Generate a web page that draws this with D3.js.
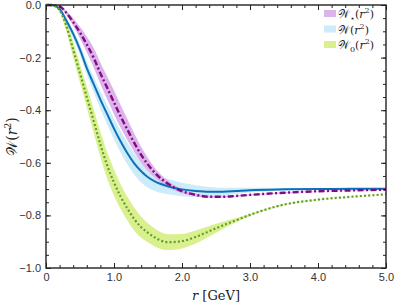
<!DOCTYPE html>
<html>
<head>
<meta charset="utf-8">
<script src="https://cdn.jsdelivr.net/npm/d3@7"></script>
<style>
  body { margin: 0; background: #fff; }
  svg { display: block; }
  .tick text { font-family: "Liberation Sans", Arial, sans-serif; font-size: 11px; fill: #333; }
  .math { font-family: "DejaVu Serif", "Liberation Serif", serif; }
</style>
</head>
<body>
<div id="chart"></div>
<script>
// radial grid (GeV)
var rVals = [0, 0.1, 0.2, 0.3, 0.4, 0.5, 0.6, 0.7, 0.8, 0.9, 1.0, 1.1, 1.2, 1.3, 1.4, 1.5, 1.6, 1.8, 2.0, 2.2, 2.4, 2.6, 2.8, 3.0, 3.5, 4.0, 4.5, 5.0];

// W_star(r^2) - purple dash-dot
var wStar   = [0, 0, -0.005, -0.03, -0.065, -0.105, -0.15, -0.2, -0.26, -0.315, -0.37, -0.425, -0.475, -0.525, -0.57, -0.607, -0.638, -0.681, -0.708, -0.722, -0.729, -0.729, -0.726, -0.722, -0.714, -0.708, -0.705, -0.702];
var wStarHi = [0, 0, -0.002, -0.022, -0.05, -0.083, -0.12, -0.163, -0.22, -0.272, -0.325, -0.382, -0.435, -0.49, -0.54, -0.583, -0.62, -0.669, -0.7, -0.717, -0.725, -0.726, -0.724, -0.72, -0.712, -0.707, -0.704, -0.701];
var wStarLo = [0, 0, -0.008, -0.038, -0.08, -0.127, -0.18, -0.237, -0.3, -0.358, -0.415, -0.468, -0.515, -0.56, -0.6, -0.631, -0.656, -0.693, -0.716, -0.727, -0.733, -0.732, -0.728, -0.724, -0.716, -0.709, -0.706, -0.703];

// W(r^2) - blue solid
var wMid   = [0, -0.001, -0.015, -0.06, -0.11, -0.17, -0.24, -0.3, -0.36, -0.415, -0.47, -0.52, -0.565, -0.603, -0.632, -0.655, -0.671, -0.69, -0.701, -0.707, -0.71, -0.71, -0.707, -0.704, -0.701, -0.7, -0.699, -0.699];
var wMidHi = [0, 0, -0.01, -0.048, -0.095, -0.15, -0.215, -0.272, -0.328, -0.38, -0.432, -0.48, -0.525, -0.565, -0.597, -0.622, -0.641, -0.662, -0.676, -0.685, -0.692, -0.695, -0.695, -0.695, -0.696, -0.697, -0.697, -0.698];
var wMidLo = [0, -0.002, -0.02, -0.072, -0.127, -0.19, -0.265, -0.33, -0.395, -0.455, -0.51, -0.562, -0.607, -0.645, -0.675, -0.695, -0.707, -0.72, -0.727, -0.73, -0.729, -0.725, -0.719, -0.713, -0.706, -0.703, -0.701, -0.7];

// W_0(r^2) - green dotted
var wZero   = [0, -0.002, -0.02, -0.08, -0.17, -0.26, -0.35, -0.44, -0.53, -0.61, -0.675, -0.73, -0.775, -0.815, -0.845, -0.866, -0.884, -0.902, -0.898, -0.882, -0.86, -0.838, -0.818, -0.798, -0.759, -0.74, -0.729, -0.72];
var wZeroHi = [0, 0, -0.012, -0.058, -0.14, -0.225, -0.31, -0.395, -0.482, -0.56, -0.625, -0.683, -0.73, -0.772, -0.805, -0.83, -0.85, -0.872, -0.87, -0.857, -0.84, -0.824, -0.81, -0.794, -0.757, -0.739, -0.728, -0.72];
var wZeroLo = [0, -0.004, -0.028, -0.102, -0.2, -0.295, -0.39, -0.485, -0.578, -0.66, -0.725, -0.777, -0.82, -0.858, -0.885, -0.902, -0.918, -0.932, -0.926, -0.907, -0.88, -0.852, -0.826, -0.802, -0.761, -0.741, -0.73, -0.72];

var xTicks = [0, 1, 2, 3, 4, 5];
var xTickLabels = ["0", "1.0", "2.0", "3.0", "4.0", "5.0"];
var yTicks = [0, -0.2, -0.4, -0.6, -0.8, -1.0];

var width = 395, height = 304;
var margin = {top: 5, right: 9, bottom: 36, left: 46};
var w = width - margin.left - margin.right,
    h = height - margin.top - margin.bottom;

var svg = d3.select("#chart").append("svg")
    .attr("width", width)
    .attr("height", height);

var g = svg.append("g")
    .attr("transform", "translate(" + margin.left + "," + margin.top + ")");

var x = d3.scaleLinear().domain([0, 5]).range([0, w]);
var y = d3.scaleLinear().domain([-1, 0]).range([h, 0]);

var series = [
  {mid: wZero, lo: wZeroLo, hi: wZeroHi, band: "#daf08f", line: "#5f9e2a", dash: "2,2.2", lw: 2.2},
  {mid: wMid,  lo: wMidLo,  hi: wMidHi,  band: "#cdebf8", line: "#0a72bb", dash: null, lw: 2},
  {mid: wStar, lo: wStarLo, hi: wStarHi, band: "#dcb3ea", line: "#820a82", dash: "6,2.5,2,2.5", lw: 2.4}
];

var area = d3.area()
    .x(function(d) { return x(d.r); })
    .y0(function(d) { return y(d.lo); })
    .y1(function(d) { return y(d.hi); })
    .curve(d3.curveMonotoneX);

var line = d3.line()
    .x(function(d) { return x(d.r); })
    .y(function(d) { return y(d.v); })
    .curve(d3.curveMonotoneX);

// bands first, then lines
series.forEach(function(s) {
  var pts = rVals.map(function(r, i) { return {r: r, lo: s.lo[i], hi: s.hi[i]}; });
  g.append("path").datum(pts)
    .attr("d", area)
    .attr("fill", s.band)
    .attr("stroke", "none");
});
[series[1], series[2], series[0]].forEach(function(s) {
  var pts = rVals.map(function(r, i) { return {r: r, v: s.mid[i]}; });
  g.append("path").datum(pts)
    .attr("d", line)
    .attr("fill", "none")
    .attr("stroke", s.line)
    .attr("stroke-width", s.lw)
    .attr("stroke-dasharray", s.dash);
});

// axes, ticks pointing inward on all sides
var xMinor = d3.range(0, 5.001, 0.2);
var yMinor = d3.range(-1, 0.001, 0.05);

var xAxis = d3.axisBottom(x).tickValues(xTicks)
    .tickFormat(function(d, i) { return xTickLabels[i]; })
    .tickSizeInner(-5).tickSizeOuter(0).tickPadding(5);
var yAxis = d3.axisLeft(y).tickValues(yTicks)
    .tickFormat(d3.format(".1f"))
    .tickSizeInner(-5).tickSizeOuter(0).tickPadding(5);

g.append("g").attr("transform", "translate(0," + h + ")").call(xAxis);
g.append("g").call(yAxis);
g.append("g").call(d3.axisTop(x).tickValues(xTicks).tickSizeInner(-5).tickSizeOuter(0).tickFormat(""));
g.append("g").attr("transform", "translate(" + w + ",0)")
  .call(d3.axisRight(y).tickValues(yTicks).tickSizeInner(-5).tickSizeOuter(0).tickFormat(""));

g.append("g").attr("transform", "translate(0," + h + ")")
  .call(d3.axisBottom(x).tickValues(xMinor).tickSizeInner(-3).tickSizeOuter(0).tickFormat(""));
g.append("g").call(d3.axisTop(x).tickValues(xMinor).tickSizeInner(-3).tickSizeOuter(0).tickFormat(""));
g.append("g").call(d3.axisLeft(y).tickValues(yMinor).tickSizeInner(-3).tickSizeOuter(0).tickFormat(""));
g.append("g").attr("transform", "translate(" + w + ",0)")
  .call(d3.axisRight(y).tickValues(yMinor).tickSizeInner(-3).tickSizeOuter(0).tickFormat(""));

g.selectAll(".domain").remove();
g.selectAll(".tick line").attr("stroke", "#222").attr("stroke-width", 1);

g.append("rect")
  .attr("width", w).attr("height", h)
  .attr("fill", "none")
  .attr("stroke", "#222")
  .attr("stroke-width", 1.4);

// axis titles
var xl = svg.append("text").attr("class", "math")
  .attr("x", margin.left + w / 2).attr("y", 300)
  .attr("text-anchor", "middle")
  .attr("font-size", 13).attr("fill", "#222");
xl.append("tspan").attr("font-style", "italic").text("r");
xl.append("tspan").text(" [GeV]");

var yl = svg.append("text").attr("class", "math")
  .attr("transform", "translate(17," + (margin.top + h / 2) + ") rotate(-90)")
  .attr("text-anchor", "middle")
  .attr("font-size", 14).attr("fill", "#222");
yl.append("tspan").text("\uD835\uDCB2(");
yl.append("tspan").attr("font-style", "italic").text("r");
yl.append("tspan").attr("dy", -6).attr("font-size", 9).text("2");
yl.append("tspan").attr("dy", 6).text(")");

// legend
var legendItems = [
  {sub: "\u22C6", band: series[2].band},
  {sub: "",       band: series[1].band},
  {sub: "0",      band: series[0].band}
];
var lg = svg.append("g").attr("transform", "translate(324,10)");
legendItems.forEach(function(d, i) {
  var row = lg.append("g").attr("transform", "translate(0," + (i * 15.5) + ")");
  row.append("rect").attr("width", 12).attr("height", 7).attr("fill", d.band);
  var t = row.append("text").attr("class", "math")
    .attr("x", 14).attr("y", 8)
    .attr("font-size", 11).attr("fill", "#222");
  t.append("tspan").text("\uD835\uDCB2");
  if (d.sub) t.append("tspan").attr("dy", 3).attr("font-size", 8).text(d.sub);
  t.append("tspan").attr("dy", d.sub ? -3 : 0).text("(");
  t.append("tspan").attr("font-style", "italic").text("r");
  t.append("tspan").attr("dy", -5).attr("font-size", 8).text("2");
  t.append("tspan").attr("dy", 5).text(")");
});
</script>
</body>
</html>
